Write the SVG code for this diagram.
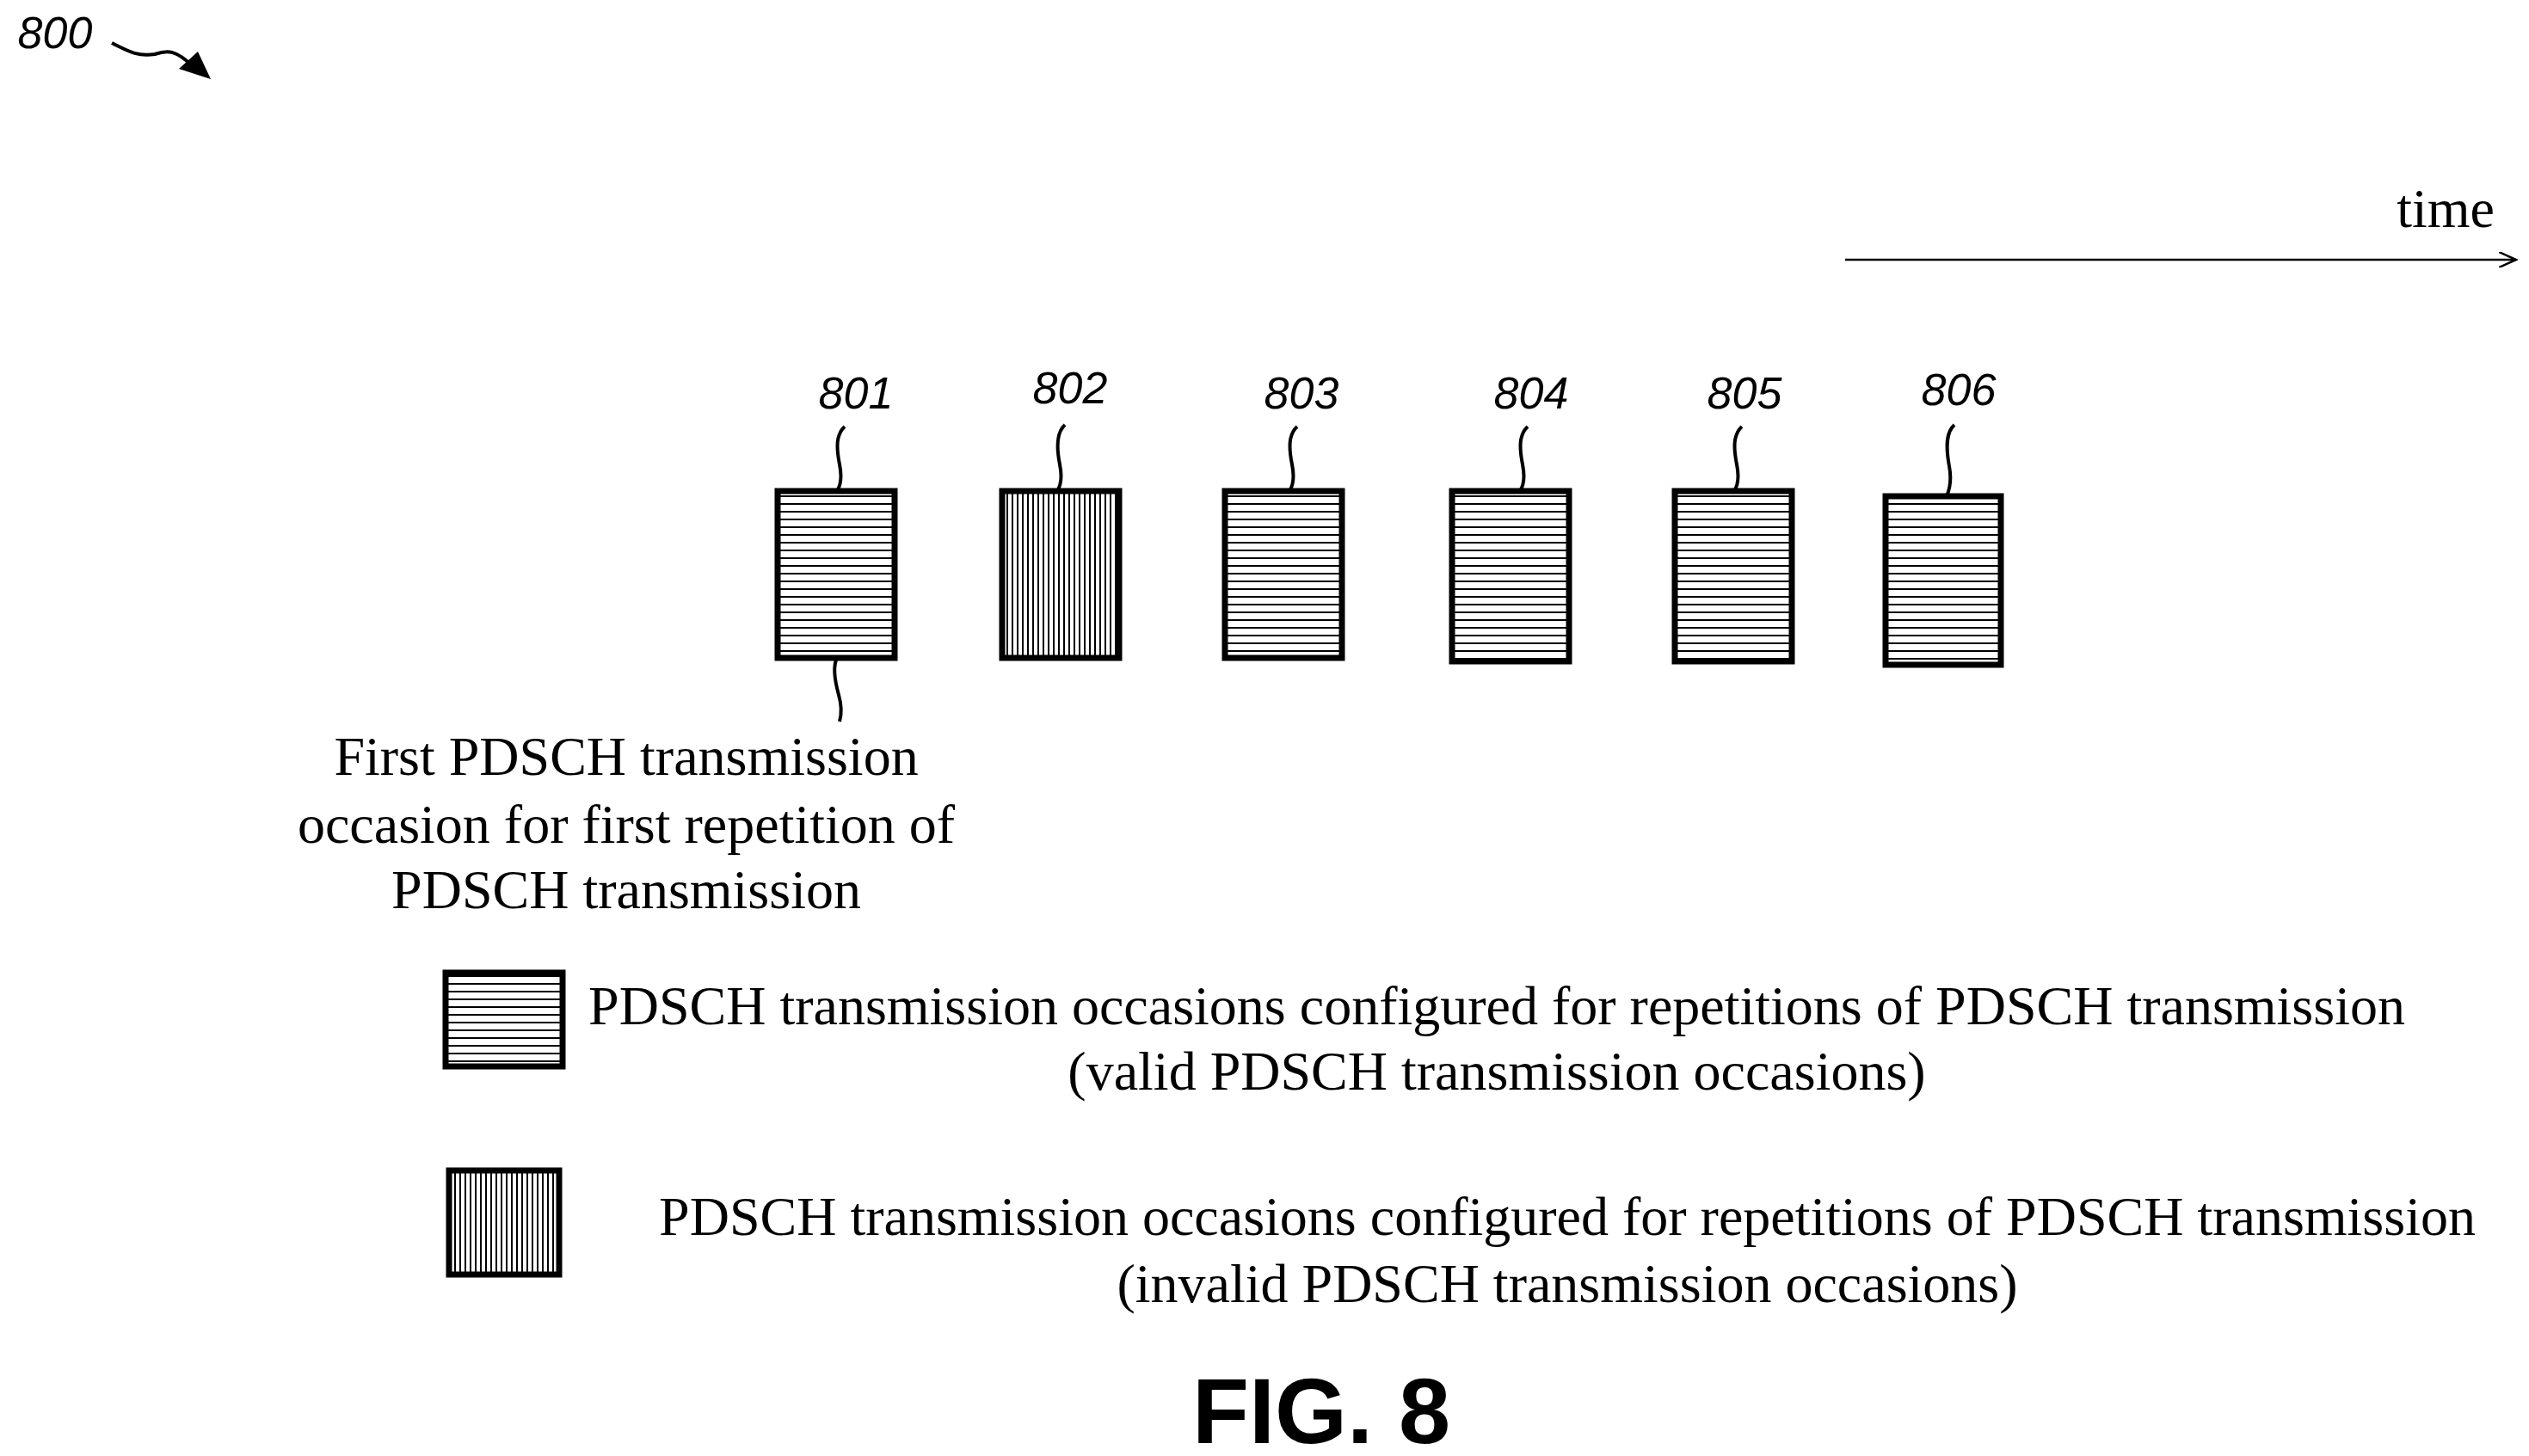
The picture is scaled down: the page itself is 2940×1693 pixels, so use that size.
<svg xmlns="http://www.w3.org/2000/svg" width="2940" height="1693" viewBox="0 0 2940 1693">
<style>
.lbl{font-family:"Liberation Sans",Arial,sans-serif;font-style:italic;font-size:52px;text-anchor:middle}
.t{font-family:"Liberation Serif","Times New Roman",serif;font-size:64px;text-anchor:middle}
.sq{fill:none;stroke:#000;stroke-width:4}
.hb{fill:url(#hz);stroke:#000;stroke-width:7}
.vb{fill:url(#vt);stroke:#000;stroke-width:7}
</style>
<defs>
<pattern id="hz" width="10" height="9" patternUnits="userSpaceOnUse"><rect width="10" height="9" fill="#fff"/><line x1="0" y1="1" x2="10" y2="1" stroke="#000" stroke-width="2"/></pattern>
<pattern id="vt" width="6" height="10" patternUnits="userSpaceOnUse"><rect width="6" height="10" fill="#fff"/><line x1="1" y1="0" x2="1" y2="10" stroke="#000" stroke-width="2"/></pattern>
<marker id="ah" markerWidth="22" markerHeight="18" refX="20" refY="9" orient="auto" markerUnits="userSpaceOnUse"><path d="M0,0 L20,9 L0,18" fill="none" stroke="#000" stroke-width="2.5"/></marker>
</defs>
<g id="ref800">
<text class="lbl" x="64" y="56">800</text>
<path d="M130,50 C150,60 160,66 180,63 C195,58 205,58 225,78" class="sq"/>
<path d="M208,80 L245,92 L230,60 Z" fill="#000"/>
</g>
<g id="time">
<text class="t" x="2900" y="264" style="text-anchor:end">time</text>
</g>
<g id="connectors">
<line x1="2145" y1="302" x2="2925" y2="302" stroke="#000" stroke-width="2.5" marker-end="url(#ah)"/>
<path class="sq" d="M982,496 C972,505 972,520 976,540 C979,555 977,565 973,571"/>
<path class="sq" d="M1238,494 C1228,503 1228,520 1232,540 C1235,555 1233,565 1229,571"/>
<path class="sq" d="M1508,496 C1498,505 1498,520 1502,540 C1505,555 1503,565 1499,571"/>
<path class="sq" d="M1776,496 C1766,505 1766,520 1770,540 C1773,555 1771,565 1767,571"/>
<path class="sq" d="M2025,496 C2015,505 2015,520 2019,540 C2022,555 2020,565 2016,571"/>
<path class="sq" d="M2272,494 C2262,503 2262,520 2266,542 C2269,558 2267,568 2263,577"/>
<path class="sq" d="M973,765 C968,775 970,790 975,808 C979,822 978,832 976,839"/>
</g>
<g id="n801"><text class="lbl" x="995" y="475">801</text><rect class="hb" x="904" y="571" width="136" height="194"/></g>
<g id="n802"><text class="lbl" x="1244" y="469">802</text><rect class="vb" x="1165" y="571" width="136" height="194"/></g>
<g id="n803"><text class="lbl" x="1513" y="475">803</text><rect class="hb" x="1424" y="571" width="136" height="194"/></g>
<g id="n804"><text class="lbl" x="1780" y="475">804</text><rect class="hb" x="1688" y="571" width="136" height="198"/></g>
<g id="n805"><text class="lbl" x="2028" y="475">805</text><rect class="hb" x="1947" y="571" width="136" height="198"/></g>
<g id="n806"><text class="lbl" x="2277" y="471">806</text><rect class="hb" x="2192" y="577" width="134" height="196"/></g>
<g id="caption801">
<text class="t" x="728" y="901">First PDSCH transmission</text>
<text class="t" x="728" y="980">occasion for first repetition of</text>
<text class="t" x="728" y="1056">PDSCH transmission</text>
</g>
<g id="legend-valid">
<rect class="hb" x="518" y="1131" width="136" height="109"/>
<text class="t" x="1740" y="1191">PDSCH transmission occasions configured for repetitions of PDSCH transmission</text>
<text class="t" x="1740" y="1267">(valid PDSCH transmission occasions)</text>
</g>
<g id="legend-invalid">
<rect class="vb" x="522" y="1361" width="128" height="121"/>
<text class="t" x="1822" y="1436">PDSCH transmission occasions configured for repetitions of PDSCH transmission</text>
<text class="t" x="1822" y="1514">(invalid PDSCH transmission occasions)</text>
</g>
<g id="fig">
<text x="1536" y="1678" style="font-family:'Liberation Sans',Arial,sans-serif;font-weight:bold;font-size:108px;text-anchor:middle">FIG. 8</text>
</g>
</svg>
